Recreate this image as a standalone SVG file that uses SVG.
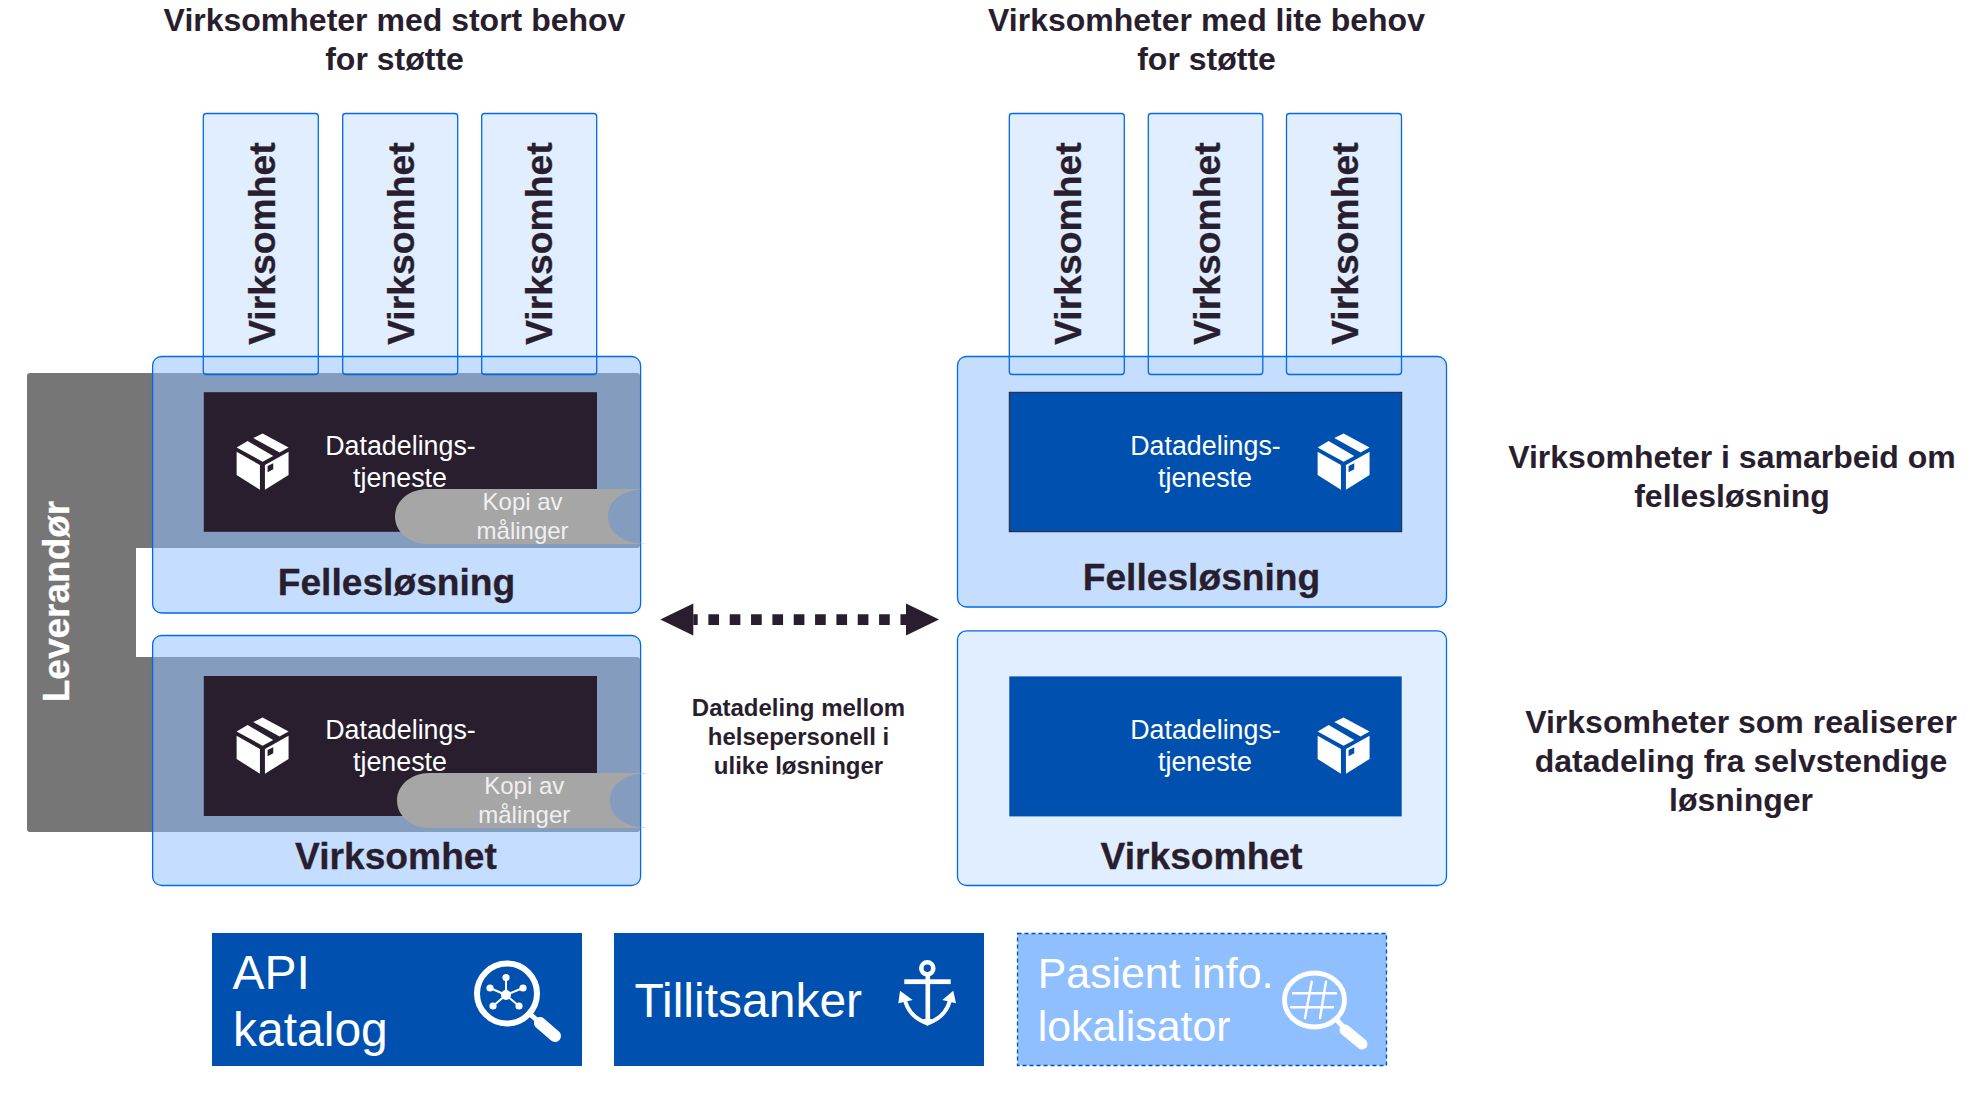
<svg xmlns="http://www.w3.org/2000/svg" xmlns:xlink="http://www.w3.org/1999/xlink" width="1975" height="1112" viewBox="0 0 1975 1112">
<style>
text{font-family:"Liberation Sans",Arial,sans-serif;}
.h{font-size:32px;font-weight:700;fill:#291E2E;text-anchor:middle}
.t{font-size:37.2px;font-weight:700;fill:#291E2E;text-anchor:middle;stroke:#291E2E;stroke-width:.3}
.v{font-size:37.3px;font-weight:700;fill:#291E2E;text-anchor:middle;stroke:#291E2E;stroke-width:.3}
.m{font-size:24px;font-weight:700;fill:#291E2E;text-anchor:middle}
.d{font-size:26.8px;fill:#fff;text-anchor:middle}
.k{font-size:24px;fill:#F0F0F0;text-anchor:middle}
.bf{fill:#E0EEFF}
.bo{fill:none;stroke:#0069E8;stroke-width:1.3}
.pa{fill:#90C0FF;fill-opacity:.526;stroke:#0069E8;stroke-width:1.3}
.ps{fill:#C5DEFF;stroke:#0069E8;stroke-width:1.3}
.pl{fill:#E0EEFF;stroke:#0069E8;stroke-width:1.3}
.dk{fill:#291E2E}
.bl{fill:#0050AF}
.pill{fill:#A6A6A6}
.w{stroke:#fff;fill:none;stroke-linecap:round}
</style>
<defs>
<symbol id="cube" viewBox="952 280 156 170" overflow="visible">
<path fill="#fff" d="M1002 294L1030 280L1108 322L1081 337ZM985 303L952 322L1030 365L1062 348ZM952 335L1022 375V449L952 405ZM1037 375L1108 335V405L1037 449ZM1045 378V397L1062 388V370Z" fill-rule="evenodd"/>
</symbol>
<marker id="ah" markerUnits="userSpaceOnUse" markerWidth="34" markerHeight="33" refX="0" refY="16.5" orient="auto-start-reverse" overflow="visible">
<path d="M0 .5L33 16.5L0 32.5Z" fill="#291E2E"/>
</marker>
</defs>
<rect width="1975" height="1112" fill="#fff"/>

<g id="header-left"><text class="h" x="394.5" y="31">Virksomheter med stort behov</text><text class="h" x="394.5" y="70">for støtte</text></g>
<g id="header-right"><text class="h" x="1206.5" y="31">Virksomheter med lite behov</text><text class="h" x="1206.5" y="70">for støtte</text></g>

<g id="leverandor">
<path fill="#767676" d="M30 373H637a3 3 0 0 1 3 3V545a3 3 0 0 1-3 3H136V657H637a3 3 0 0 1 3 3V829a3 3 0 0 1-3 3H30a3 3 0 0 1-3-3V376a3 3 0 0 1 3-3Z"/>
</g>

<g id="virksomhet-fill">
<rect class="bf" x="203.3" y="113.5" width="115" height="243"/>
<rect class="bf" x="342.7" y="113.5" width="115" height="243"/>
<rect class="bf" x="481.7" y="113.5" width="115" height="243"/>
<rect class="bf" x="1009.3" y="113.5" width="115" height="243"/>
<rect class="bf" x="1148.3" y="113.5" width="114.5" height="243"/>
<rect class="bf" x="1286.5" y="113.5" width="115" height="243"/>
</g>

<g id="felles-left"><rect class="pa" x="152.6" y="356.5" width="488" height="256.5" rx="9"/></g>
<g id="virk-left"><rect class="pa" x="152.6" y="635.5" width="488" height="250" rx="9"/></g>
<g id="felles-right"><rect class="ps" x="957.5" y="356.5" width="489" height="250.5" rx="9"/></g>
<g id="virk-right"><rect class="pl" x="957.5" y="630.8" width="489" height="254.7" rx="9"/></g>

<g id="virksomhet-boxes">
<g id="v1"><rect class="bo" x="203.3" y="113.5" width="115" height="261" rx="3"/><text class="v" transform="translate(274.5 243.6) rotate(-90)">Virksomhet</text></g>
<g id="v2"><rect class="bo" x="342.7" y="113.5" width="115" height="261" rx="3"/><text class="v" transform="translate(413.5 243.6) rotate(-90)">Virksomhet</text></g>
<g id="v3"><rect class="bo" x="481.7" y="113.5" width="115" height="261" rx="3"/><text class="v" transform="translate(552 243.6) rotate(-90)">Virksomhet</text></g>
<g id="v4"><rect class="bo" x="1009.3" y="113.5" width="115" height="261" rx="3"/><text class="v" transform="translate(1080.5 243.6) rotate(-90)">Virksomhet</text></g>
<g id="v5"><rect class="bo" x="1148.3" y="113.5" width="114.5" height="261" rx="3"/><text class="v" transform="translate(1219.5 243.6) rotate(-90)">Virksomhet</text></g>
<g id="v6"><rect class="bo" x="1286.5" y="113.5" width="115" height="261" rx="3"/><text class="v" transform="translate(1357.5 243.6) rotate(-90)">Virksomhet</text></g>
</g>

<g id="tjeneste-left-1">
<rect class="dk" x="203.8" y="392.2" width="393.2" height="139.6"/>
<use xlink:href="#cube" href="#cube" x="236.6" y="433.4" width="52" height="56.6"/>
<text class="d" x="400.5" y="455.3">Datadelings-</text><text class="d" x="400" y="487">tjeneste</text>
</g>
<g id="tjeneste-left-2">
<rect class="dk" x="203.8" y="676" width="393.2" height="140"/>
<use xlink:href="#cube" href="#cube" x="236.6" y="717.4" width="52" height="56.6"/>
<text class="d" x="400.5" y="739.3">Datadelings-</text><text class="d" x="400" y="771">tjeneste</text>
</g>
<g id="tjeneste-right-1">
<rect class="bl" x="1009.3" y="392.3" width="392.4" height="139.4" stroke="#291E2E" stroke-width="1"/>
<use xlink:href="#cube" href="#cube" x="1317.6" y="433.4" width="52" height="56.6"/>
<text class="d" x="1205.5" y="454.8">Datadelings-</text><text class="d" x="1205" y="486.5">tjeneste</text>
</g>
<g id="tjeneste-right-2">
<rect class="bl" x="1009.3" y="676.4" width="392.4" height="140"/>
<use xlink:href="#cube" href="#cube" x="1317.6" y="717.4" width="52" height="56.6"/>
<text class="d" x="1205.5" y="738.8">Datadelings-</text><text class="d" x="1205" y="770.5">tjeneste</text>
</g>

<g id="kopi-1">
<path class="pill" d="M648 489H428C408 489 395 502 395 516.5S408 544 428 544H648C622 544 608 532 608 516.5S622 489 648 489Z"/>
<text class="k" x="522.6" y="509.6">Kopi av</text><text class="k" x="522.6" y="539">målinger</text>
</g>
<g id="kopi-2">
<path class="pill" d="M650 773H430C410 773 397 786 397 800.5S410 828 430 828H650C624 828 610 816 610 800.5S624 773 650 773Z"/>
<text class="k" x="524.3" y="793.6">Kopi av</text><text class="k" x="524.3" y="823">målinger</text>
</g>

<text class="t" x="396.5" y="595">Fellesløsning</text>
<text class="t" x="396" y="868.5">Virksomhet</text>
<text class="t" x="1201.5" y="589.5">Fellesløsning</text>
<text class="t" x="1201.5" y="868.5">Virksomhet</text>
<text font-size="37" font-weight="700" fill="#fff" stroke="#fff" stroke-width=".3" text-anchor="middle" transform="translate(69.4 601.5) rotate(-90)">Leverandør</text>

<g id="connectors">
<line x1="693.3" y1="619.6" x2="906" y2="619.6" stroke="#291E2E" stroke-width="10.7" stroke-dasharray="10.67 10.67" stroke-dashoffset="6.27" marker-start="url(#ah)" marker-end="url(#ah)"/>
</g>
<g id="arrow-label">
<text class="m" x="798.5" y="716">Datadeling mellom</text>
<text class="m" x="798.5" y="745">helsepersonell i</text>
<text class="m" x="798.5" y="774">ulike løsninger</text>
</g>

<g id="note-1"><text class="h" x="1732" y="468">Virksomheter i samarbeid om</text><text class="h" x="1732" y="507">fellesløsning</text></g>
<g id="note-2"><text class="h" x="1741" y="733">Virksomheter som realiserer</text><text class="h" x="1741" y="772">datadeling fra selvstendige</text><text class="h" x="1741" y="811">løsninger</text></g>

<g id="api-katalog">
<rect class="bl" x="212" y="933" width="370" height="133"/>
<text x="232.5" y="988.5" font-size="48" fill="#fff">API</text>
<text x="233" y="1046" font-size="48" fill="#fff">katalog</text>
<circle class="w" cx="507" cy="993.5" r="30" stroke-width="6"/>
<path class="w" d="M530 1014L540 1023" stroke-width="5"/>
<path class="w" d="M540 1023L555 1036" stroke-width="12"/>
<g stroke="#fff" stroke-width="2"><path d="M506 995V977M506 995L490 988M506 995L523 988M506 995L493 1006M506 995L519 1006"/></g>
<g fill="#fff"><circle cx="506" cy="995" r="5"/><circle cx="506" cy="977.5" r="3.6"/><circle cx="490" cy="988" r="3.6"/><circle cx="523" cy="988" r="3.6"/><circle cx="493" cy="1006" r="3.6"/><circle cx="519" cy="1006" r="3.6"/></g>
</g>

<g id="tillitsanker">
<rect class="bl" x="614" y="933" width="370" height="133"/>
<text x="634.5" y="1016.7" font-size="48" fill="#fff">Tillitsanker</text>
<circle class="w" cx="927.3" cy="968.3" r="6" stroke-width="4.6"/>
<rect x="904.3" y="979.3" width="46.4" height="4.8" fill="#fff"/>
<rect x="925.5" y="974" width="4.6" height="50" fill="#fff"/>
<path class="w" d="M905.5 1002C909 1014 918 1020 927.5 1023.5C937 1020 946 1014 949.5 1002" stroke-width="4"/>
<path fill="#fff" d="M898.3 1003.3L900 990.7L912.7 1000ZM956 1003.3L953.3 990.7L942.3 1000ZM921 1019L927.5 1025.5L934 1019Z"/>
</g>

<g id="pasient-info">
<rect x="1017.5" y="933.5" width="369" height="132" fill="#90BFFF" stroke="#0050AF" stroke-width="1.3" stroke-dasharray="4 3"/>
<text x="1037.8" y="988" font-size="42.8" fill="#fff">Pasient info.</text>
<text x="1037.8" y="1040.7" font-size="42.8" fill="#fff">lokalisator</text>
<ellipse class="w" cx="1314.5" cy="1000" rx="30" ry="27" stroke-width="4.8"/>
<path class="w" d="M1337 1020L1345 1029" stroke-width="5"/>
<path class="w" d="M1345 1030L1362 1044" stroke-width="11"/>
<path class="w" d="M1293 993.3H1336M1291 1007.3H1333M1311.7 981.7L1305 1018M1326 981.7L1320 1018" stroke-width="2.4"/>
</g>
</svg>
